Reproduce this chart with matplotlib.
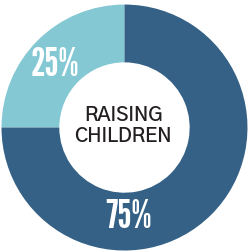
import matplotlib
matplotlib.use("Agg")
import matplotlib.pyplot as plt

# data
labels = ["25%", "75%"]
values = [25, 75]
colors = ["#84c8d4", "#346185"]
center_text = "RAISING\nCHILDREN"

fig = plt.figure(figsize=(2.48, 2.52), dpi=100)
ax = fig.add_axes([0, 0, 1, 1])

ax.pie(values, colors=colors, startangle=90, counterclock=True,
       radius=1.0, wedgeprops=dict(width=0.47, linewidth=0))

# label positions
label_pos = [(-0.565, 0.51), (0.03, -0.73)]
for txt, (x, y) in zip(labels, label_pos):
    ax.text(x, y, txt, ha="center", va="center", color="white",
            fontsize=29, family=["League Gothic", "DejaVu Sans"])

ax.text(-0.01, 0.01, center_text, ha="center", va="center", color="#231f20",
        fontsize=14, fontweight=600, linespacing=1.15,
        family=["Gothic A1", "DejaVu Sans"])

ax.set_xlim(-1.012, 1.004)
ax.set_ylim(-1.012, 1.037)
ax.axis("off")

fig.savefig("out.png", dpi=100)
